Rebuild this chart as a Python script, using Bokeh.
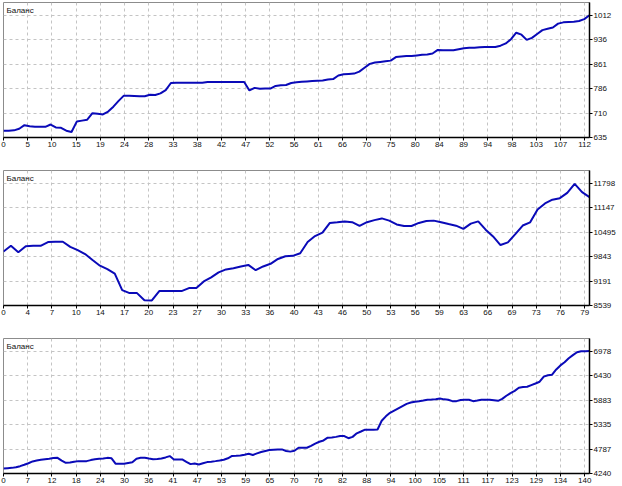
from bokeh.plotting import figure
from bokeh.models import Range1d, FixedTicker, Label
from bokeh.layouts import column
from bokeh.embed import file_html
from bokeh.resources import INLINE

title_text = "Баланс"

# balance per trade
bal1 = [656, 656, 657, 662, 673, 670, 668, 668, 668, 675,
        666, 665, 656, 652, 684, 687, 690, 710, 708, 706,
        715, 730, 748, 764, 764, 763, 762, 762, 767, 766,
        771, 781, 803, 804, 804, 804, 804, 804, 804, 806,
        806, 806, 806, 806, 806, 806, 806, 780, 788, 785,
        786, 786, 794, 796, 797, 803, 805, 807, 808, 809,
        810, 811, 814, 815, 826, 830, 831, 832, 838, 850,
        862, 866, 868, 870, 872, 883, 885, 886, 886, 888,
        890, 891, 894, 905, 904, 904, 904, 907, 910, 912,
        912, 913, 914, 914, 914, 918, 925, 938, 958, 952,
        936, 942, 954, 966, 970, 974, 986, 990, 991, 992,
        994, 1000, 1012]

bal2 = [9977, 10130, 9960, 10120, 10130, 10130, 10230, 10237, 10237, 10100,
        10015, 9910, 9750, 9600, 9510, 9390, 8950, 8869, 8869, 8680,
        8673, 8923, 8923, 8923, 8923, 9003, 9003, 9180, 9290, 9420,
        9500, 9530, 9580, 9620, 9480, 9580, 9650, 9780, 9850, 9862,
        9930, 10230, 10390, 10480, 10740, 10755, 10780, 10760, 10660, 10760,
        10815, 10860, 10800, 10700, 10659, 10659, 10740, 10790, 10801, 10760,
        10710, 10667, 10580, 10720, 10782, 10560, 10380, 10150, 10220, 10440,
        10670, 10755, 11100, 11260, 11360, 11399, 11540, 11780, 11560, 11426]

bal3 = [4353, 4360, 4366, 4380, 4404, 4435, 4470, 4510, 4530, 4546,
        4558, 4570, 4585, 4591, 4530, 4480, 4485, 4505, 4517, 4517,
        4517, 4540, 4560, 4569, 4575, 4590, 4580, 4456, 4456, 4456,
        4475, 4490, 4570, 4591, 4591, 4575, 4560, 4565, 4575, 4600,
        4630, 4555, 4555, 4555, 4500, 4450, 4465, 4443, 4470, 4495,
        4505, 4517, 4530, 4548, 4580, 4632, 4638, 4645, 4662, 4681,
        4655, 4690, 4722, 4745, 4765, 4772, 4778, 4780, 4745, 4730,
        4750, 4817, 4817, 4817, 4860, 4910, 4950, 4980, 5042, 5048,
        5060, 5080, 5078, 5030, 5060, 5140, 5180, 5222, 5222, 5222,
        5225, 5420, 5520, 5600, 5650, 5700, 5750, 5800, 5830, 5848,
        5860, 5875, 5891, 5895, 5905, 5918, 5900, 5891, 5860, 5860,
        5885, 5891, 5891, 5860, 5875, 5891, 5891, 5891, 5880, 5868,
        5910, 5981, 6040, 6090, 6160, 6175, 6183, 6220, 6255, 6295,
        6410, 6440, 6453, 6570, 6660, 6731, 6820, 6890, 6956, 6978,
        6978, 6985]

xlabels1 = [0, 5, 10, 15, 19, 24, 28, 33, 38, 42, 47, 52, 56, 61, 66, 70, 75, 80, 84, 89, 94, 98, 103, 107, 112]
xlabels2 = [0, 4, 7, 10, 14, 17, 20, 23, 27, 30, 33, 36, 40, 43, 46, 50, 53, 56, 59, 63, 66, 69, 73, 76, 79]
xlabels3 = [0, 7, 12, 18, 24, 30, 36, 41, 47, 53, 59, 65, 70, 76, 82, 88, 94, 100, 105, 111, 117, 123, 129, 134, 140]

ylabels1 = [635, 710, 786, 861, 936, 1012]
ylabels2 = [8539, 9191, 9843, 10495, 11147, 11798]
ylabels3 = [4240, 4787, 5335, 5883, 6430, 6978]

FONT = "Liberation Sans"
LINE_COLOR = "#0a0ab8"
GRID_INTERVALS = 24.2
TOP_PAD = 0.52


def make_panel(balance, xlabels, ylabels, bottom_gap):
    n = len(balance)
    xs = list(range(n))
    x_end = n - 1
    ystep = (ylabels[-1] - ylabels[0]) / (len(ylabels) - 1)
    p = figure(frame_width=586, frame_height=135,
               output_backend="svg", toolbar_location=None,
               x_range=Range1d(0, x_end),
               y_range=Range1d(ylabels[0], ylabels[-1] + TOP_PAD * ystep),
               y_axis_location="right",
               min_border_left=3, min_border_right=0,
               min_border_top=2, min_border_bottom=bottom_gap)
    p.background_fill_color = "white"
    p.border_fill_color = "white"
    p.outline_line_color = "#8c8c8c"
    p.outline_line_width = 1

    step = x_end / GRID_INTERVALS
    xpos = [round(k * step, 3) for k in range(len(xlabels))]
    p.xaxis.ticker = FixedTicker(ticks=xpos)
    p.xaxis.major_label_overrides = {pos: str(lbl) for pos, lbl in zip(xpos, xlabels)}
    p.yaxis.ticker = FixedTicker(ticks=ylabels)

    for ax in (p.xaxis[0], p.yaxis[0]):
        ax.axis_line_color = "black"
        ax.axis_line_width = 1.5
        ax.major_tick_line_color = "black"
        ax.major_tick_out = 3
        ax.major_tick_in = 0
        ax.minor_tick_line_color = None
        ax.major_label_text_font = FONT
        ax.major_label_text_font_size = "8px"
        ax.major_label_text_color = "#101010"
        ax.major_label_standoff = 1

    for g in (p.xgrid[0], p.ygrid[0]):
        g.grid_line_color = "#c4c4c4"
        g.grid_line_dash = "3 3"
        g.grid_line_width = 1

    p.line(xs, balance, line_color=LINE_COLOR, line_width=2)

    p.add_layout(Label(x=0, y=ylabels[-1] + TOP_PAD * ystep, x_offset=3, y_offset=-3,
                       text=title_text, text_font=FONT, text_font_size="8px",
                       text_baseline="top", text_align="left", text_color="#101010"))
    return p


p1 = make_panel(bal1, xlabels1, ylabels1, 31)
p2 = make_panel(bal2, xlabels2, ylabels2, 31)
p3 = make_panel(bal3, xlabels3, ylabels3, 0)

p = column(p1, p2, p3, spacing=0)

open("out.html", "w").write(file_html(p, INLINE))
